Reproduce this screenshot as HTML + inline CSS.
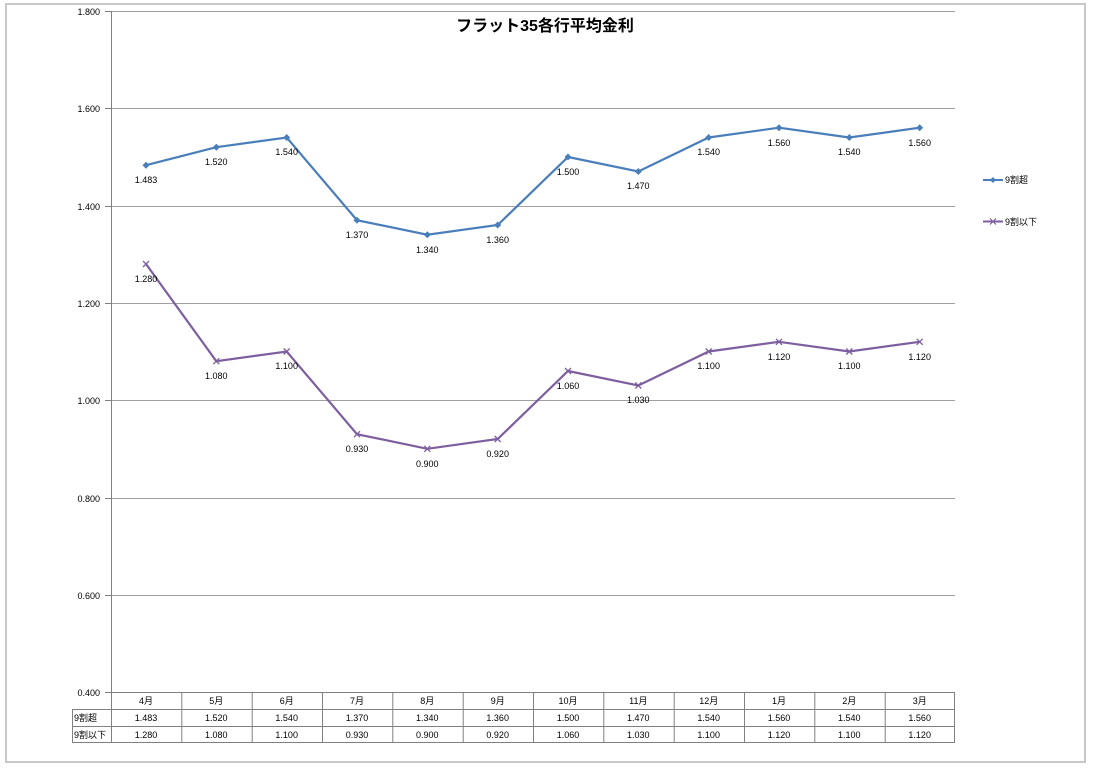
<!DOCTYPE html>
<html><head><meta charset="utf-8"><style>
body{margin:0;background:#fff;}
svg text{font-family:"Liberation Sans","Noto Sans CJK JP",sans-serif;}
</style></head><body>
<svg width="1097" height="769" xmlns="http://www.w3.org/2000/svg">
<rect x="6" y="4" width="1079" height="758" fill="#fff" stroke="#c8c8c8" stroke-width="2"/>
<g stroke="#a0a0a0" stroke-width="1">
<line x1="111" y1="11.5" x2="955" y2="11.5"/>
<line x1="111" y1="108.5" x2="955" y2="108.5"/>
<line x1="111" y1="206.5" x2="955" y2="206.5"/>
<line x1="111" y1="303.5" x2="955" y2="303.5"/>
<line x1="111" y1="400.5" x2="955" y2="400.5"/>
<line x1="111" y1="498.5" x2="955" y2="498.5"/>
<line x1="111" y1="595.5" x2="955" y2="595.5"/>
</g>
<g stroke="#808080" stroke-width="1">
<line x1="111.5" y1="11" x2="111.5" y2="742"/>
<line x1="105" y1="11.5" x2="111" y2="11.5"/>
<line x1="105" y1="108.5" x2="111" y2="108.5"/>
<line x1="105" y1="206.5" x2="111" y2="206.5"/>
<line x1="105" y1="303.5" x2="111" y2="303.5"/>
<line x1="105" y1="400.5" x2="111" y2="400.5"/>
<line x1="105" y1="498.5" x2="111" y2="498.5"/>
<line x1="105" y1="595.5" x2="111" y2="595.5"/>
<line x1="105" y1="692.5" x2="955" y2="692.5"/>
<line x1="72" y1="709.5" x2="955" y2="709.5"/>
<line x1="72" y1="726.5" x2="955" y2="726.5"/>
<line x1="72" y1="742.5" x2="955" y2="742.5"/>
<line x1="72.5" y1="709" x2="72.5" y2="742"/>
<line x1="954.5" y1="692" x2="954.5" y2="742"/>
<line x1="181.8" y1="692" x2="181.8" y2="742"/><line x1="252.2" y1="692" x2="252.2" y2="742"/><line x1="322.5" y1="692" x2="322.5" y2="742"/><line x1="392.8" y1="692" x2="392.8" y2="742"/><line x1="463.2" y1="692" x2="463.2" y2="742"/><line x1="533.5" y1="692" x2="533.5" y2="742"/><line x1="603.8" y1="692" x2="603.8" y2="742"/><line x1="674.2" y1="692" x2="674.2" y2="742"/><line x1="744.5" y1="692" x2="744.5" y2="742"/><line x1="814.8" y1="692" x2="814.8" y2="742"/><line x1="885.2" y1="692" x2="885.2" y2="742"/>
</g>
<g font-size="9" text-anchor="end" fill="#000">
<text x="100" y="15">1.800</text><text x="100" y="112">1.600</text><text x="100" y="210">1.400</text><text x="100" y="307">1.200</text><text x="100" y="404">1.000</text><text x="100" y="502">0.800</text><text x="100" y="599">0.600</text><text x="100" y="696">0.400</text>
</g>
<text x="545" y="31" font-size="16" font-weight="bold" text-anchor="middle">フラット35各行平均金利</text>
<polyline fill="none" stroke="#4a7ebb" stroke-width="2.2" points="146,165.2 216.3,147.2 286.7,137.5 357,220.2 427.3,234.7 497.7,225 568,157 638.3,171.5 708.7,137.5 779,127.7 849.3,137.5 919.7,127.7"/>
<g fill="#4a7ebb">
<path d="M146 161.7l3.5 3.5-3.5 3.5-3.5-3.5z"/><path d="M216.3 143.7l3.5 3.5-3.5 3.5-3.5-3.5z"/><path d="M286.7 134l3.5 3.5-3.5 3.5-3.5-3.5z"/><path d="M357 216.7l3.5 3.5-3.5 3.5-3.5-3.5z"/><path d="M427.3 231.2l3.5 3.5-3.5 3.5-3.5-3.5z"/><path d="M497.7 221.5l3.5 3.5-3.5 3.5-3.5-3.5z"/><path d="M568 153.5l3.5 3.5-3.5 3.5-3.5-3.5z"/><path d="M638.3 168l3.5 3.5-3.5 3.5-3.5-3.5z"/><path d="M708.7 134l3.5 3.5-3.5 3.5-3.5-3.5z"/><path d="M779 124.2l3.5 3.5-3.5 3.5-3.5-3.5z"/><path d="M849.3 134l3.5 3.5-3.5 3.5-3.5-3.5z"/><path d="M919.7 124.2l3.5 3.5-3.5 3.5-3.5-3.5z"/>
</g>
<polyline fill="none" stroke="#7d5fa0" stroke-width="2.2" points="146,264 216.3,361.2 286.7,351.5 357,434.2 427.3,448.8 497.7,439 568,371 638.3,385.5 708.7,351.5 779,341.8 849.3,351.5 919.7,341.8"/>
<g stroke="#7d5fa0" stroke-width="1.3" fill="none">
<path d="M143 261l6 6M149 261l-6 6"/><path d="M213.3 358.2l6 6M219.3 358.2l-6 6"/><path d="M283.7 348.5l6 6M289.7 348.5l-6 6"/><path d="M354 431.2l6 6M360 431.2l-6 6"/><path d="M424.3 445.8l6 6M430.3 445.8l-6 6"/><path d="M494.7 436l6 6M500.7 436l-6 6"/><path d="M565 368l6 6M571 368l-6 6"/><path d="M635.3 382.5l6 6M641.3 382.5l-6 6"/><path d="M705.7 348.5l6 6M711.7 348.5l-6 6"/><path d="M776 338.8l6 6M782 338.8l-6 6"/><path d="M846.3 348.5l6 6M852.3 348.5l-6 6"/><path d="M916.7 338.8l6 6M922.7 338.8l-6 6"/>
</g>
<g font-size="9" text-anchor="middle" fill="#000">
<text x="146" y="183">1.483</text><text x="216.3" y="165">1.520</text><text x="286.7" y="155">1.540</text><text x="357" y="238">1.370</text><text x="427.3" y="253">1.340</text><text x="497.7" y="243">1.360</text><text x="568" y="175">1.500</text><text x="638.3" y="189">1.470</text><text x="708.7" y="155">1.540</text><text x="779" y="146">1.560</text><text x="849.3" y="155">1.540</text><text x="919.7" y="146">1.560</text>
<text x="146" y="282">1.280</text><text x="216.3" y="379">1.080</text><text x="286.7" y="369">1.100</text><text x="357" y="452">0.930</text><text x="427.3" y="467">0.900</text><text x="497.7" y="457">0.920</text><text x="568" y="389">1.060</text><text x="638.3" y="403">1.030</text><text x="708.7" y="369">1.100</text><text x="779" y="360">1.120</text><text x="849.3" y="369">1.100</text><text x="919.7" y="360">1.120</text>
<text x="146" y="704">4月</text><text x="216.3" y="704">5月</text><text x="286.7" y="704">6月</text><text x="357" y="704">7月</text><text x="427.3" y="704">8月</text><text x="497.7" y="704">9月</text><text x="568" y="704">10月</text><text x="638.3" y="704">11月</text><text x="708.7" y="704">12月</text><text x="779" y="704">1月</text><text x="849.3" y="704">2月</text><text x="919.7" y="704">3月</text>
<text x="146" y="721">1.483</text><text x="216.3" y="721">1.520</text><text x="286.7" y="721">1.540</text><text x="357" y="721">1.370</text><text x="427.3" y="721">1.340</text><text x="497.7" y="721">1.360</text><text x="568" y="721">1.500</text><text x="638.3" y="721">1.470</text><text x="708.7" y="721">1.540</text><text x="779" y="721">1.560</text><text x="849.3" y="721">1.540</text><text x="919.7" y="721">1.560</text>
<text x="146" y="738">1.280</text><text x="216.3" y="738">1.080</text><text x="286.7" y="738">1.100</text><text x="357" y="738">0.930</text><text x="427.3" y="738">0.900</text><text x="497.7" y="738">0.920</text><text x="568" y="738">1.060</text><text x="638.3" y="738">1.030</text><text x="708.7" y="738">1.100</text><text x="779" y="738">1.120</text><text x="849.3" y="738">1.100</text><text x="919.7" y="738">1.120</text>
</g>
<g font-size="9" fill="#000">
<text x="74" y="721">9割超</text><text x="74" y="738">9割以下</text>
<text x="1005" y="183">9割超</text><text x="1005" y="225">9割以下</text>
</g>
<line x1="983" y1="180" x2="1003" y2="180" stroke="#4a7ebb" stroke-width="2"/>
<path d="M993 177l3 3-3 3-3-3z" fill="#4a7ebb"/>
<line x1="983" y1="221.5" x2="1003" y2="221.5" stroke="#7d5fa0" stroke-width="2"/>
<path d="M990 218.5l6 6M996 218.5l-6 6" stroke="#7d5fa0" stroke-width="1.2"/>
</svg>
</body></html>
